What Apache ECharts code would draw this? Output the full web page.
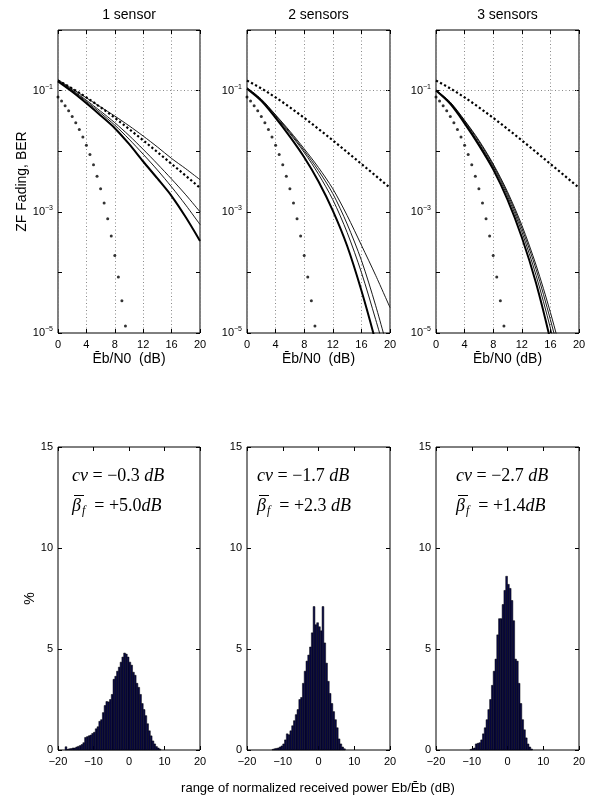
<!DOCTYPE html>
<html>
<head>
<meta charset="utf-8">
<script src="https://cdn.jsdelivr.net/npm/echarts@6/dist/echarts.min.js"></script>
<style>
  html, body { margin: 0; padding: 0; background: #fff; }
  #chart { width: 594px; height: 800px; }
</style>
</head>
<body>
<div id="chart"></div>
<script>
// ---- BER curves (Eb/N0 in dB on x, log10(BER) on y) ----
const snrCoarse = [0, 2, 4, 6, 8, 10, 12, 14, 16, 18, 20];

// 1 sensor
const s1Thick = [-0.85, -1.02, -1.21, -1.41, -1.62, -1.88, -2.17, -2.45, -2.74, -3.09, -3.48];
const s1ThinA = [-0.84, -1.00, -1.18, -1.37, -1.57, -1.80, -2.05, -2.31, -2.59, -2.89, -3.21];
const s1ThinB = [-0.83, -0.99, -1.16, -1.34, -1.53, -1.74, -1.97, -2.21, -2.46, -2.72, -3.00];
const s1ThinC = [-0.82, -0.97, -1.12, -1.27, -1.42, -1.58, -1.75, -1.93, -2.12, -2.29, -2.47];
// 2 sensors
const s2Thick = [-0.97, -1.17, -1.45, -1.76, -2.10, -2.50, -2.98, -3.56, -4.30, -5.15, -6.10];
const s2ThinA = [-0.96, -1.16, -1.43, -1.71, -2.02, -2.38, -2.80, -3.34, -4.00, -4.78, -5.60];
const s2ThinB = [-0.96, -1.15, -1.41, -1.69, -1.99, -2.32, -2.70, -3.20, -3.80, -4.55, -5.40];
const s2ThinC = [-0.95, -1.14, -1.40, -1.67, -1.96, -2.27, -2.62, -3.06, -3.55, -4.05, -4.58];
// 3 sensors
const s3Thick = [-1.00, -1.22, -1.54, -1.90, -2.30, -2.80, -3.42, -4.18, -5.12, -6.20, -7.40];
const s3ThinA = [-1.00, -1.21, -1.52, -1.87, -2.26, -2.74, -3.33, -4.05, -4.92, -5.90, -7.00];
const s3ThinB = [-0.99, -1.20, -1.50, -1.84, -2.23, -2.70, -3.27, -3.95, -4.78, -5.70, -6.70];
const s3ThinC = [-0.99, -1.19, -1.49, -1.82, -2.21, -2.67, -3.22, -3.88, -4.66, -5.55, -6.50];

// Reference curves shared by all three panels
const snrAwgn = [0, 0.5, 1, 1.5, 2, 2.5, 3, 3.5, 4, 4.5, 5, 5.5, 6, 6.5, 7, 7.5, 8, 8.5, 9, 9.5];
const berAwgn = [0.0786, 0.0671, 0.0563, 0.0464, 0.0375, 0.0296, 0.0229, 0.0172, 0.0125, 0.00882,
                 0.00595, 0.00387, 0.00239, 0.00140, 0.00077, 0.00040, 0.00019, 0.000084, 0.000034, 0.000013];
const snrFine = [0, 1, 2, 3, 4, 5, 6, 7, 8, 9, 10, 11, 12, 13, 14, 15, 16, 17, 18, 19, 20];
const berRayleigh = [0.1464, 0.1267, 0.1085, 0.0919, 0.0771, 0.0642, 0.0530, 0.0435, 0.0355, 0.0288,
                     0.0233, 0.0188, 0.0151, 0.0121, 0.00967, 0.00773, 0.00617, 0.00493, 0.00393, 0.00313, 0.00249];

// ---- Histograms of normalized received power (%), 0.5 dB bins ----
const binWidth = 0.5;
const hist1Start = -18;
const hist1 = [0.16, 0.03, 0.06, 0.07, 0.10, 0.10, 0.15, 0.18, 0.22, 0.27, 0.36, 0.62, 0.66, 0.70, 0.74, 0.82,
               0.88, 1.05, 1.15, 1.42, 1.50, 1.85, 2.20, 2.40, 2.38, 2.50, 2.75, 3.50, 3.65, 3.90, 4.10, 4.35,
               4.60, 4.80, 4.75, 4.60, 4.35, 4.20, 3.85, 3.70, 3.30, 3.10, 2.75, 2.30, 2.00, 1.70, 1.30, 0.95,
               0.70, 0.45, 0.30, 0.17, 0.10, 0.04];
const hist2Start = -13;
const hist2 = [0.03, 0.06, 0.08, 0.10, 0.15, 0.20, 0.30, 0.50, 0.80, 0.75, 0.95, 1.20, 1.45, 1.75, 2.00, 2.50,
               2.60, 3.30, 3.90, 4.40, 4.70, 5.10, 5.80, 7.10, 6.20, 6.30, 6.10, 5.90, 7.10, 5.30, 4.30, 3.40,
               2.80, 2.30, 1.90, 1.50, 1.10, 0.55, 0.30, 0.15, 0.06];
const hist3Start = -10.5;
const hist3 = [0.03, 0.06, 0.10, 0.30, 0.33, 0.36, 0.50, 0.80, 1.10, 1.50, 2.00, 2.50, 3.20, 3.90, 4.50, 5.70,
               6.50, 6.50, 7.20, 7.90, 8.60, 8.20, 8.00, 7.40, 6.40, 4.50, 4.40, 3.30, 2.30, 1.50, 1.00, 0.60,
               0.30, 0.15, 0.05];

const panelTitles = ['1 sensor', '2 sensors', '3 sensors'];
const berXLabels = ['\u0112b/N0  (dB)', '\u0112b/N0  (dB)', '\u0112b/N0 (dB)'];
const cvText = ['\u22120.3 ', '\u22121.7 ', '\u22122.7 '];
const betaText = ['+5.0', '+2.3 ', '+1.4'];

// ---- layout ----
const SANS = 'Liberation Sans, Arial, Helvetica, sans-serif';
const SERIF = 'Liberation Serif, Times New Roman, serif';
const panelLeft = [58, 247, 436];
const panelWidth = [142, 143, 143];
const topRowTop = 30, bottomRowTop = 447, rowHeight = 303;

const grids = [], xAxes = [], yAxes = [], series = [], graphics = [];

const tickLabel = { color: '#000', fontFamily: SANS, fontSize: 11 };
const innerTick = { show: true, inside: true, length: 4, lineStyle: { color: '#000', width: 1 } };
const noLine = { show: false, onZero: false };

function addGrid(left, top, width) {
  grids.push({ left, top, width, height: rowHeight, show: true, borderColor: '#000', borderWidth: 1,
               backgroundColor: '#fff' });
  return grids.length - 1;
}

function addAxesPair(gridIndex, xCfg, yCfg) {
  const xi = xAxes.length, yi = yAxes.length;
  xAxes.push(Object.assign({ gridIndex, position: 'bottom', axisLine: noLine,
    axisTick: innerTick, axisLabel: Object.assign({ margin: 6 }, tickLabel) }, xCfg.main));
  xAxes.push(Object.assign({ gridIndex, position: 'top', axisLine: noLine,
    axisTick: innerTick, axisLabel: { show: false }, splitLine: { show: false } }, xCfg.mirror));
  yAxes.push(Object.assign({ gridIndex, position: 'left', axisLine: noLine,
    axisTick: innerTick, axisLabel: Object.assign({ margin: 5 }, tickLabel) }, yCfg.main));
  yAxes.push(Object.assign({ gridIndex, position: 'right', axisLine: noLine,
    axisTick: innerTick, axisLabel: { show: false }, splitLine: { show: false } }, yCfg.mirror));
  return { xi, yi };
}

function centeredText(x, y, text, font) {
  graphics.push({ type: 'text', x, y, silent: true,
    style: { text, font, fill: '#000', textAlign: 'center', textVerticalAlign: 'middle' } });
}

const toPairs = (xs, logs) => xs.map((x, i) => [x, Math.pow(10, logs[i])]);
const curveSets = [
  [s1Thick, s1ThinA, s1ThinB, s1ThinC],
  [s2Thick, s2ThinA, s2ThinB, s2ThinC],
  [s3Thick, s3ThinA, s3ThinB, s3ThinC]
];

// ---- top row: BER vs Eb/N0 ----
for (let p = 0; p < 3; p++) {
  const g = addGrid(panelLeft[p], topRowTop, panelWidth[p]);
  const logY = { type: 'log', logBase: 10, min: 1e-5, max: 1, splitNumber: 5 };
  const linX = { type: 'value', min: 0, max: 20, interval: 4 };
  const { xi, yi } = addAxesPair(g,
    { main: Object.assign({}, linX, {
        splitLine: { show: true, lineStyle: { color: '#8a8a8a', type: [1, 2.5], width: 1 } },
        name: berXLabels[p], nameLocation: 'middle', nameGap: 19,
        nameTextStyle: { color: '#000', fontFamily: SANS, fontSize: 14 } }),
      mirror: Object.assign({}, linX) },
    { main: Object.assign({}, logY, {
        splitLine: { show: false },
        axisLabel: Object.assign({ margin: 5 }, tickLabel, {
          formatter: v => {
            const e = Math.round(Math.log10(v));
            return (Math.abs(e) % 2 === 1) ? '{b|10}{s|\u2212' + (-e) + '}' : '';
          },
          rich: { b: { fontFamily: SANS, fontSize: 11, color: '#000' },
                  s: { fontFamily: SANS, fontSize: 7, color: '#000', padding: [0, 0, 8, 0] } }
        }),
        name: p === 0 ? 'ZF Fading, BER' : '', nameLocation: 'middle', nameGap: 28,
        nameRotate: 90, nameTextStyle: { color: '#000', fontFamily: SANS, fontSize: 14 } }),
      mirror: Object.assign({}, logY) });

  // Rayleigh reference (fine dotted line) carrying the horizontal grid at 1e-1 and 1e-3
  series.push({
    type: 'line', xAxisIndex: xi, yAxisIndex: yi, data: toPairs(snrFine, berRayleigh.map(Math.log10)),
    showSymbol: false, silent: true, z: 3,
    lineStyle: { color: '#000', width: 2.2, type: [2.2, 2.4], cap: 'butt' },
    markLine: { silent: true, symbol: 'none', label: { show: false }, z: 1,
      lineStyle: { color: '#8a8a8a', type: [1, 2.5], width: 1 },
      data: [{ yAxis: 0.1 }, { yAxis: 0.001 }] }
  });
  // AWGN reference (coarse dots)
  series.push({
    type: 'scatter', xAxisIndex: xi, yAxisIndex: yi, data: toPairs(snrAwgn, berAwgn.map(Math.log10)),
    symbol: 'circle', symbolSize: 3, itemStyle: { color: '#000' }, silent: true, z: 4
  });
  // Sensor curves: one thick, three thin
  curveSets[p].forEach((c, k) => {
    series.push({
      type: 'line', xAxisIndex: xi, yAxisIndex: yi, data: toPairs(snrCoarse, c),
      showSymbol: false, smooth: 0.3, silent: true, clip: true, z: 5,
      lineStyle: { color: '#000', width: k === 0 ? 2 : 0.9 }
    });
  });

  centeredText(panelLeft[p] + panelWidth[p] / 2, 15, panelTitles[p], '14px ' + SANS);
}

// ---- bottom row: histograms ----
const hists = [[hist1Start, hist1], [hist2Start, hist2], [hist3Start, hist3]];
for (let p = 0; p < 3; p++) {
  const g = addGrid(panelLeft[p], bottomRowTop, panelWidth[p]);
  const linX = { type: 'value', min: -20, max: 20, interval: 10 };
  const linY = { type: 'value', min: 0, max: 15, interval: 5 };
  const { xi, yi } = addAxesPair(g,
    { main: Object.assign({}, linX, { splitLine: { show: false },
        axisLabel: Object.assign({ margin: 6 }, tickLabel, { formatter: v => String(v).replace('-', '\u2212') }) }),
      mirror: Object.assign({}, linX) },
    { main: Object.assign({}, linY, { splitLine: { show: false },
        name: p === 0 ? '%' : '', nameLocation: 'middle', nameGap: 20, nameRotate: 90,
        nameTextStyle: { color: '#000', fontFamily: SANS, fontSize: 14 } }),
      mirror: Object.assign({}, linY) });

  const [start, heights] = hists[p];
  series.push({
    type: 'custom', xAxisIndex: xi, yAxisIndex: yi, silent: true, z: 3,
    data: heights.map((h, i) => [start + (i + 0.5) * binWidth, h]),
    encode: { x: 0, y: 1 },
    renderItem: (params, api) => {
      const c = api.value(0), h = api.value(1);
      const a = api.coord([c - binWidth / 2, h]);
      const b = api.coord([c + binWidth / 2, 0]);
      return { type: 'rect', shape: { x: a[0], y: a[1], width: b[0] - a[0], height: b[1] - a[1] },
               style: { fill: '#08084a', stroke: '#000', lineWidth: 0.5 } };
    }
  });

  // statistics annotation: cv and mean fading gain (beta with an overbar, subscript f)
  const ax = panelLeft[p] + (p === 0 ? 14 : p === 1 ? 10 : 20);
  const rich = {
    i: { fontFamily: SERIF, fontStyle: 'italic', fontSize: 18, color: '#000' },
    r: { fontFamily: SERIF, fontSize: 18, color: '#000' },
    sub: { fontFamily: SERIF, fontStyle: 'italic', fontSize: 12, color: '#000', padding: [10, 0, 0, 1] }
  };
  graphics.push({ type: 'text', x: ax, y: 476, silent: true,
    style: { text: '{i|cv}{r| = ' + cvText[p] + '}{i|dB}', rich, textVerticalAlign: 'middle' } });
  graphics.push({ type: 'text', x: ax, y: 506, silent: true,
    style: { text: '{i|\u03B2}{sub|f}{r|  = ' + betaText[p] + '}{i|dB}', rich, textVerticalAlign: 'middle' } });
  graphics.push({ type: 'line', silent: true,
    shape: { x1: ax + 2, y1: 495.5, x2: ax + 12, y2: 495.5 },
    style: { stroke: '#000', lineWidth: 1 } });
}

centeredText(318, 788, 'range of normalized received power Eb/\u0112b (dB)', '13px ' + SANS);

const chart = echarts.init(document.getElementById('chart'), null, { renderer: 'canvas' });
chart.setOption({
  animation: false,
  grid: grids,
  xAxis: xAxes,
  yAxis: yAxes,
  series,
  graphic: graphics
});
</script>
</body>
</html>
